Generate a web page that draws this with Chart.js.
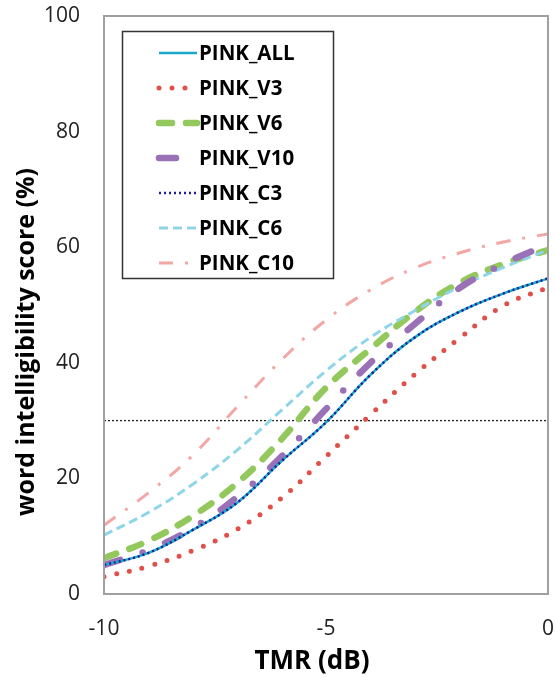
<!DOCTYPE html>
<html lang="en">
<head>
    <meta charset="UTF-8">
    <title>Word intelligibility vs TMR</title>
    <script src="https://cdn.jsdelivr.net/npm/chart.js"></script>
    <style>
        html, body { margin: 0; padding: 0; background: #fff; }
        #wordChart { display: block; }
    </style>
</head>
<body>
    <canvas id="wordChart" width="555" height="677"></canvas>

    <script>
        // TMR (dB) sample points
        const tmr = [-10, -9, -8, -7, -6, -5, -4, -3, -2, -1, 0];

        const pinkAll = [5.0, 7.1, 11.1, 15.8, 23.0, 29.7, 37.9, 44.4, 48.8, 52.0, 54.6];
        const pinkV3  = [3.0, 4.8, 7.5, 11.2, 16.6, 23.8, 31.0, 38.0, 44.2, 49.9, 53.0];
        const pinkV6  = [6.2, 9.2, 13.5, 19.2, 26.8, 35.7, 42.4, 48.8, 53.8, 57.1, 59.5];
        const pinkV10 = [5.0, 7.6, 11.4, 16.8, 23.8, 32.0, 40.0, 46.7, 52.9, 57.1, 60.5];
        const pinkC3  = [5.0, 7.1, 11.1, 15.8, 23.0, 29.7, 37.9, 44.4, 48.8, 52.0, 54.6];
        const pinkC6  = [10.2, 14.1, 19.0, 24.9, 31.8, 38.6, 44.4, 49.0, 53.1, 56.5, 59.5];
        const pinkC10 = [11.9, 17.5, 24.0, 32.4, 40.5, 47.4, 52.6, 56.4, 59.0, 60.9, 62.3];

        const thresholdScore = 30;   // dotted reference line
        const xTicks = [-10, -5, 0];
        const yTicks = [0, 20, 40, 60, 80, 100];

        const toPoints = vals => vals.map((v, i) => ({ x: tmr[i], y: v }));

        const series = [
            { label: 'PINK_ALL', data: pinkAll, color: '#1aa9c8', width: 2.5, dash: [], cap: 'butt', order: 1 },
            { label: 'PINK_V3',  data: pinkV3,  color: '#e0504a', width: 5, dash: [0, 13], cap: 'round', order: 5 },
            { label: 'PINK_V6',  data: pinkV6,  color: '#93c85c', width: 6.5, dash: [13, 14], cap: 'round', order: 4 },
            { label: 'PINK_V10', data: pinkV10, color: '#9a70b6', width: 6.5, dash: [17, 24, 0, 24], cap: 'round', order: 2 },
            { label: 'PINK_C3',  data: pinkC3,  color: '#1e1e9c', width: 2.5, dash: [2, 3], cap: 'butt', order: 0 },
            { label: 'PINK_C6',  data: pinkC6,  color: '#8fd5e8', width: 3, dash: [9, 5], cap: 'butt', order: 3 },
            { label: 'PINK_C10', data: pinkC10, color: '#f2a7a5', width: 3, dash: [14, 12, 3, 12], cap: 'butt', order: 6 }
        ];

        const datasets = series.map(s => ({
            label: s.label,
            data: toPoints(s.data),
            borderColor: s.color,
            backgroundColor: s.color,
            borderWidth: s.width,
            borderDash: s.dash,
            borderCapStyle: s.cap,
            pointRadius: 0,
            fill: false,
            tension: 0.4,
            order: s.order
        }));

        datasets.push({
            label: 'threshold',
            data: [{ x: tmr[0], y: thresholdScore }, { x: tmr[tmr.length - 1], y: thresholdScore }],
            borderColor: '#222',
            borderWidth: 1.3,
            borderDash: [2, 2],
            pointRadius: 0,
            fill: false,
            order: 7
        });

        // legend box, plot frame and axis titles
        const decorations = {
            id: 'decorations',
            afterDraw(chart) {
                const ctx = chart.ctx;
                const area = chart.chartArea;
                ctx.save();

                ctx.strokeStyle = '#a0a0a0';
                ctx.lineWidth = 2;
                ctx.setLineDash([]);
                ctx.strokeRect(area.left, area.top, area.right - area.left, area.bottom - area.top);

                ctx.strokeStyle = '#333';
                ctx.lineWidth = 1.5;
                ctx.strokeRect(122.5, 31.5, 211, 247);

                ctx.font = 'bold 20.5px "Open Sans"';
                ctx.textBaseline = 'middle';
                ctx.textAlign = 'left';
                series.forEach((s, i) => {
                    const y = 53 + i * 35;
                    ctx.beginPath();
                    ctx.strokeStyle = s.color;
                    ctx.lineWidth = s.width;
                    ctx.lineCap = s.cap;
                    ctx.setLineDash(s.dash);
                    ctx.moveTo(159, y);
                    ctx.lineTo(197, y);
                    ctx.stroke();
                    ctx.setLineDash([]);
                    ctx.fillStyle = '#000';
                    ctx.fillText(s.label, 199, y + 1);
                });

                ctx.fillStyle = '#000';
                ctx.textAlign = 'center';
                ctx.font = 'bold 26px "Open Sans"';
                ctx.fillText('TMR (dB)', 312, 662);

                ctx.translate(27, 342);
                ctx.rotate(-Math.PI / 2);
                ctx.font = 'bold 25px "Open Sans"';
                ctx.fillText('word intelligibility score (%)', 0, 0);
                ctx.restore();
            }
        };

        const ctx = document.getElementById('wordChart').getContext('2d');
        new Chart(ctx, {
            type: 'line',
            data: { datasets: datasets },
            options: {
                responsive: false,
                animation: false,
                layout: { padding: { left: 0, right: 7, top: 16, bottom: 0 } },
                plugins: {
                    legend: { display: false },
                    tooltip: { enabled: false }
                },
                scales: {
                    x: {
                        type: 'linear',
                        min: -10,
                        max: 0,
                        grid: { display: false, drawTicks: false },
                        border: { display: false },
                        afterBuildTicks: scale => { scale.ticks = xTicks.map(v => ({ value: v })); },
                        afterFit: scale => {
                            scale.height = 83;
                            scale.paddingLeft = 0;
                            scale.paddingRight = 0;
                        },
                        ticks: {
                            padding: 22,
                            color: '#222',
                            font: { family: 'Open Sans', size: 21 }
                        }
                    },
                    y: {
                        min: 0,
                        max: 100,
                        grid: { display: false, drawTicks: false },
                        border: { display: false },
                        afterBuildTicks: scale => { scale.ticks = yTicks.map(v => ({ value: v })); },
                        afterFit: scale => {
                            scale.width = 104;
                            scale.paddingTop = 0;
                            scale.paddingBottom = 0;
                        },
                        ticks: {
                            padding: 24,
                            color: '#222',
                            font: { family: 'Open Sans', size: 21 }
                        }
                    }
                }
            },
            plugins: [decorations]
        });
    </script>
</body>
</html>
